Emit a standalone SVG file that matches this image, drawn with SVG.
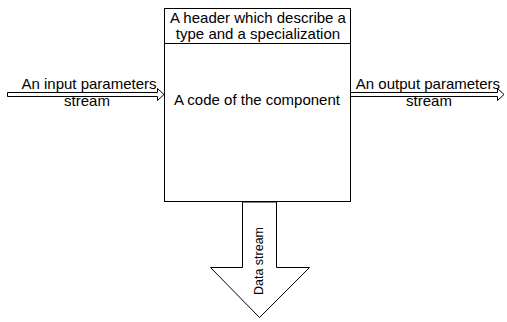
<svg xmlns="http://www.w3.org/2000/svg" width="507" height="322" viewBox="0 0 507 322">
<style>
.sh{fill:#fff;stroke:#000;stroke-width:1}
.t{font-family:"Liberation Sans",Arial,sans-serif;font-size:15px;fill:#000;text-anchor:middle}
.ts{font-family:"Liberation Sans",Arial,sans-serif;font-size:12.5px;fill:#000;text-anchor:middle}
</style>
<rect width="507" height="322" fill="#fff"/>
<g id="connectors">
<g id="input-arrow">
<polygon class="sh" points="7.5,92.5 157.5,92.5 157.5,88.5 164,94.5 157.5,100.5 157.5,96.5 7.5,96.5"/>
<text class="t" x="89" y="89">An input parameters</text>
<text class="t" x="87" y="106">stream</text>
</g>
<g id="output-arrow">
<polygon class="sh" points="350.5,92.5 497.5,92.5 497.5,88.5 504,94.5 497.5,100.5 497.5,96.5 350.5,96.5"/>
<text class="t" x="428" y="89">An output parameters</text>
<text class="t" x="429" y="106">stream</text>
</g>
<g id="data-arrow">
<polygon class="sh" points="242.5,202 242.5,267.5 210.5,267.5 259.5,317.5 309.5,267.5 276.5,267.5 276.5,202"/>
<text class="ts" transform="translate(263,261) rotate(-90)">Data stream</text>
</g>
</g>
<g id="component">
<rect class="sh" x="164.5" y="8.5" width="186" height="193"/>
<line x1="164.5" y1="43.5" x2="350.5" y2="43.5" stroke="#000"/>
<text class="t" x="258" y="23">A header which describe a</text>
<text class="t" x="258" y="39">type and a specialization</text>
<text class="t" x="257" y="105">A code of the component</text>
</g>
</svg>
